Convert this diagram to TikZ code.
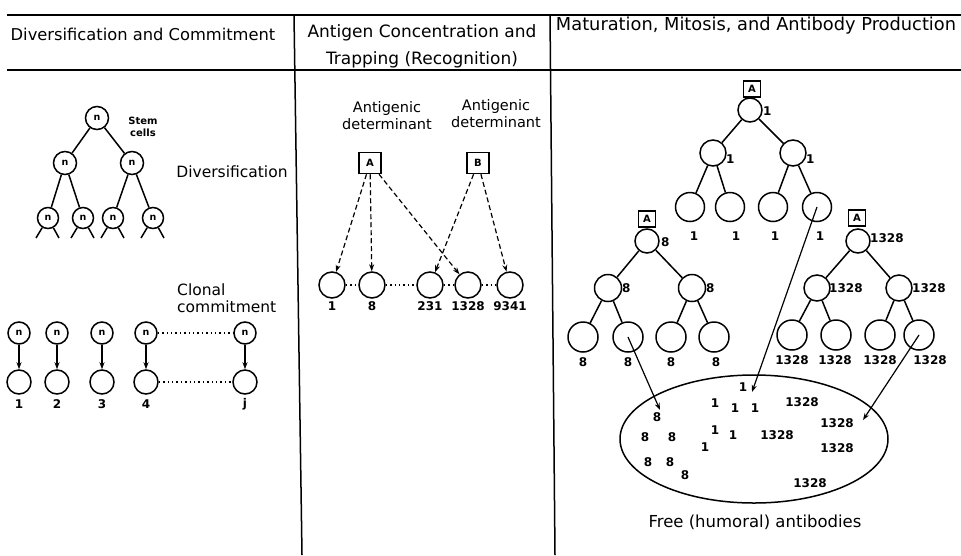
\documentclass[tikz,border=0pt]{standalone}
\usepackage{fontspec}
\setmainfont{DejaVu Sans}
\usetikzlibrary{arrows.meta,shapes.geometric}
\begin{document}
\begin{tikzpicture}[x=1pt,y=-1pt,
  rule/.style={line width=1.5pt},
  edge/.style={line width=1.5pt},
  cell/.style={circle,draw,line width=1.5pt,inner sep=0pt},
  ncell/.style={cell,font=\bfseries\fontsize{9.5}{10}\selectfont},
  abox/.style={draw,line width=1.5pt,inner sep=0pt,minimum width=17pt,minimum height=16pt,font=\bfseries\fontsize{10}{10}\selectfont},
  num/.style={inner sep=0pt,font=\bfseries\fontsize{12}{14}\selectfont},
  lbl/.style={inner sep=0pt,align=center,font=\fontsize{15.5}{17}\selectfont},
  hdr/.style={inner sep=0pt,align=center,font=\fontsize{17}{27}\selectfont},
  arr/.style={line width=1.2pt,-{Stealth[length=7pt,width=5pt]}},
  darr/.style={arr,dash pattern=on 5pt off 3pt},
  dots/.style={line width=1.5pt,dash pattern=on 1.4pt off 3pt}]
\useasboundingbox (0,0) rectangle (961,555);
% ---- table rules
\coordinate (h1a) at (7,15); \coordinate (h1b) at (961,15);
\coordinate (h2a) at (7,70); \coordinate (h2b) at (961,70);
\coordinate (v1a) at (294,15); \coordinate (v1b) at (302,555);
\coordinate (v2a) at (550,15); \coordinate (v2b) at (555,555);
\draw[rule] (h1a) -- (h1b);
\draw[rule] (h2a) -- (h2b);
\draw[rule] (v1a) -- (v1b);
\draw[rule] (v2a) -- (v2b);
% ---- headers
\node[hdr,font=\fontsize{16.3}{27}\selectfont] (hd1) at (143,34) {Diversification and Commitment};
\node[hdr] (hd2) at (422,46) {Antigen Concentration and\\Trapping (Recognition)};
\node[hdr,font=\fontsize{17.8}{27}\selectfont] (hd3) at (756,26) {Maturation, Mitosis, and Antibody Production};
% ---- left: diversification tree
\node[ncell,minimum size=23pt] (s0) at (97,118) {n};
\node[ncell,minimum size=23pt] (s1) at (65,163) {n};
\node[ncell,minimum size=23pt] (s2) at (132,163) {n};
\node[ncell,minimum size=21pt] (s3) at (48,218) {n};
\node[ncell,minimum size=21pt] (s4) at (83,218) {n};
\node[ncell,minimum size=21pt] (s5) at (113,218) {n};
\node[ncell,minimum size=21pt] (s6) at (153,218) {n};
\draw[edge] (s0) -- (s1); \draw[edge] (s0) -- (s2);
\draw[edge] (s1) -- (s3); \draw[edge] (s1) -- (s4);
\draw[edge] (s2) -- (s5); \draw[edge] (s2) -- (s6);
\foreach \i/\x in {3/48,4/83,5/113,6/153}{
  \coordinate (leg\i a) at (\x-12,238);
  \coordinate (leg\i b) at (\x+11,238);
  \draw[edge] (s\i) -- (leg\i a);
  \draw[edge] (s\i) -- (leg\i b);
}
\node[inner sep=0pt,align=center,font=\bfseries\fontsize{10}{12.5}\selectfont] (stem) at (143,127) {Stem\\cells};
\node[lbl] (div) at (232,172) {Diversification};
% ---- left: clonal commitment
\node[lbl,anchor=west,align=left] (clon) at (177,298) {Clonal\\commitment};
\foreach \i/\x/\t in {1/19/1,2/57/2,3/102/3,4/146/4,5/245/j}{
  \node[ncell,minimum size=22pt] (t\i) at (\x,333) {n};
  \node[cell,minimum size=24pt] (b\i) at (\x,382) {};
  \node[num] (bl\i) at (\x,404) {\t};
  \draw[arr] (t\i) -- (b\i);
}
\draw[dots] (t4) -- (t5);
\draw[dots] (b4) -- (b5);
% ---- middle panel
\node[lbl,font=\fontsize{14.5}{17}\selectfont] (adA) at (387,116) {Antigenic\\determinant};
\node[lbl,font=\fontsize{14.5}{17}\selectfont] (adB) at (496,114) {Antigenic\\determinant};
\node[abox,minimum width=22pt,minimum height=21pt] (mA) at (370,163) {A};
\node[abox,minimum width=22pt,minimum height=21pt] (mB) at (478,163) {B};
\foreach \i/\x/\t in {1/332/1,2/372/8,3/430/231,4/468/1328,5/510/9341}{
  \node[cell,minimum size=26pt] (m\i) at (\x,285) {};
  \node[num] (ml\i) at (\x,306) {\t};
}
\draw[dots] (m1) -- (m2);
\draw[dots] (m2) -- (m3);
\draw[dots] (m3) -- (m4);
\draw[dots] (m4) -- (m5);
\draw[darr] (mA) -- (m1);
\draw[darr] (mA) -- (m2);
\draw[darr] (mA) -- (m4);
\draw[darr] (mB) -- (m3);
\draw[darr] (mB) -- (m5);
% ---- right panel: clone 1
\node[abox] (cA) at (752,89) {A};
\node[cell,minimum size=24pt] (c0) at (750,110) {};
\node[cell,minimum size=26pt] (c1) at (713,153) {};
\node[cell,minimum size=26pt] (c2) at (793,153) {};
\node[cell,minimum size=29pt] (c3) at (690,207) {};
\node[cell,minimum size=29pt] (c4) at (730,207) {};
\node[cell,minimum size=29pt] (c5) at (773,207) {};
\node[cell,minimum size=29pt] (c6) at (817,207) {};
\draw[edge] (c0) -- (c1); \draw[edge] (c0) -- (c2);
\draw[edge] (c1) -- (c3); \draw[edge] (c1) -- (c4);
\draw[edge] (c2) -- (c5); \draw[edge] (c2) -- (c6);
\node[num,anchor=west] (cl0) at (763,111) {1};
\node[num,anchor=west] (cl1) at (726,159) {1};
\node[num,anchor=west] (cl2) at (806,159) {1};
\node[num] (cl3) at (694,236) {1};
\node[num] (cl4) at (736,236) {1};
\node[num] (cl5) at (775,236) {1};
\node[num] (cl6) at (820,236) {1};
% ---- right panel: clone 8
\node[abox] (dA) at (647,219) {A};
\node[cell,minimum size=24pt] (d0) at (647,241) {};
\node[cell,minimum size=27pt] (d1) at (608,288) {};
\node[cell,minimum size=27pt] (d2) at (692,288) {};
\node[cell,minimum size=30pt] (d3) at (583,337) {};
\node[cell,minimum size=30pt] (d4) at (628,337) {};
\node[cell,minimum size=30pt] (d5) at (671,337) {};
\node[cell,minimum size=30pt] (d6) at (714,337) {};
\draw[edge] (d0) -- (d1); \draw[edge] (d0) -- (d2);
\draw[edge] (d1) -- (d3); \draw[edge] (d1) -- (d4);
\draw[edge] (d2) -- (d5); \draw[edge] (d2) -- (d6);
\node[num,anchor=west] (dl0) at (661,242) {8};
\node[num,anchor=west] (dl1) at (622,288) {8};
\node[num,anchor=west] (dl2) at (706,288) {8};
\node[num] (dl3) at (583,362) {8};
\node[num] (dl4) at (628,362) {8};
\node[num] (dl5) at (671,362) {8};
\node[num] (dl6) at (716,362) {8};
% ---- right panel: clone 1328
\node[abox] (eA) at (857,218) {A};
\node[cell,minimum size=24pt] (e0) at (858,241) {};
\node[cell,minimum size=26pt] (e1) at (817,288) {};
\node[cell,minimum size=26pt] (e2) at (899,288) {};
\node[cell,minimum size=30pt] (e3) at (792,335) {};
\node[cell,minimum size=30pt] (e4) at (836,335) {};
\node[cell,minimum size=30pt] (e5) at (880,335) {};
\node[cell,minimum size=30pt] (e6) at (919,335) {};
\draw[edge] (e0) -- (e1); \draw[edge] (e0) -- (e2);
\draw[edge] (e1) -- (e3); \draw[edge] (e1) -- (e4);
\draw[edge] (e2) -- (e5); \draw[edge] (e2) -- (e6);
\node[num,anchor=west] (el0) at (870,238) {1328};
\node[num,anchor=west] (el1) at (829,288) {1328};
\node[num,anchor=west] (el2) at (912,288) {1328};
\node[num] (el3) at (792,360) {1328};
\node[num] (el4) at (835,360) {1328};
\node[num] (el5) at (880,360) {1328};
\node[num] (el6) at (930,360) {1328};
% ---- ellipse of free antibodies
\node[ellipse,draw,line width=1.5pt,minimum width=268pt,minimum height=128pt] (ell) at (754,439) {};
\node[lbl,font=\fontsize{16.5}{18}\selectfont] (free) at (755,522) {Free (humoral) antibodies};
\node[num] (f1) at (743,387) {1};
\node[num] (f2) at (715,403) {1};
\node[num] (f3) at (735,408) {1};
\node[num] (f4) at (755,408) {1};
\node[num] (f5) at (802,402) {1328};
\node[num] (f6) at (657,417) {8};
\node[num] (f7) at (837,423) {1328};
\node[num] (f8) at (645,437) {8};
\node[num] (f9) at (672,437) {8};
\node[num] (f10) at (715,430) {1};
\node[num] (f11) at (733,435) {1};
\node[num] (f12) at (777,435) {1328};
\node[num] (f13) at (705,447) {1};
\node[num] (f14) at (837,448) {1328};
\node[num] (f15) at (648,462) {8};
\node[num] (f16) at (670,462) {8};
\node[num] (f17) at (685,475) {8};
\node[num] (f18) at (810,483) {1328};
\coordinate (p1) at (752,392);
\coordinate (p8) at (660,410);
\coordinate (p1328) at (863,420);
\draw[arr] (c6.center) -- (p1);
\draw[arr] (d4.center) -- (p8);
\draw[arr] (e6.center) -- (p1328);
\end{tikzpicture}
\end{document}
